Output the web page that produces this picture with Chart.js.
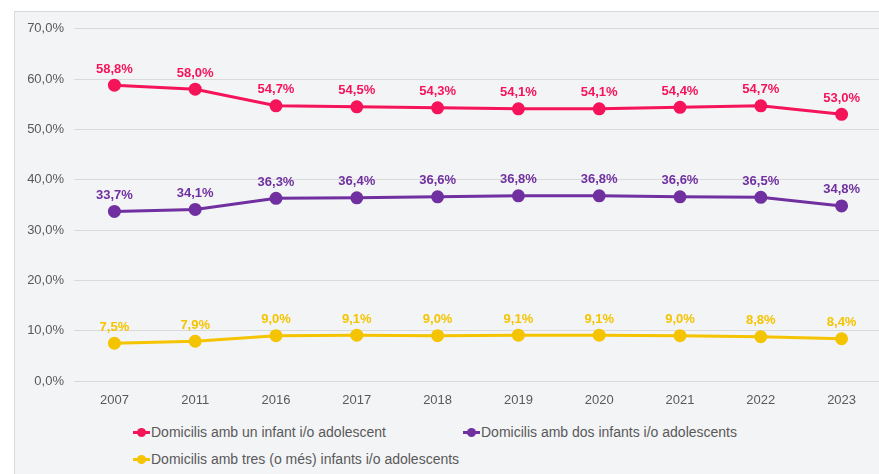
<!DOCTYPE html>
<html lang="ca">
<head>
<meta charset="UTF-8" />
<title>Domicilis amb infants</title>
<script src="https://cdn.jsdelivr.net/npm/chart.js"></script>
<style>
  html, body { margin: 0; padding: 0; background: #fff; overflow: hidden; width: 879px; height: 474px; }
  .panel {
    position: absolute; left: 14px; top: 11px; width: 900px; height: 500px;
    background: #f3f4f6; border: 1px solid #d9d9d9; box-sizing: border-box;
  }
  #lineChart { position: absolute; left: 14px; top: 11px; }
  .legend { position: absolute; font-family: "Liberation Sans", Arial, sans-serif; font-size: 14px; color: #595959; }
  .legend .item { position: absolute; white-space: nowrap; display: flex; align-items: center; }
  .legend .mark { position: relative; width: 17px; height: 3px; margin-right: 1px; }
  .legend .mark span { position: absolute; left: 4px; top: -3px; width: 9px; height: 9px; border-radius: 50%; }
</style>
</head>
<body>
<div class="panel"></div>
<canvas id="lineChart" width="876" height="397"></canvas>
<div class="legend" id="legend"></div>
<script>
const years = ['2007', '2011', '2016', '2017', '2018', '2019', '2020', '2021', '2022', '2023'];
const unInfant = [58.8, 58.0, 54.7, 54.5, 54.3, 54.1, 54.1, 54.4, 54.7, 53.0];
const dosInfants = [33.7, 34.1, 36.3, 36.4, 36.6, 36.8, 36.8, 36.6, 36.5, 34.8];
const tresInfants = [7.5, 7.9, 9.0, 9.1, 9.0, 9.1, 9.1, 9.0, 8.8, 8.4];
const seriesNames = [
  'Domicilis amb un infant i/o adolescent',
  'Domicilis amb dos infants i/o adolescents',
  'Domicilis amb tres (o més) infants i/o adolescents'
];
const colors = ['#f5145a', '#7030a0', '#f5c400'];

const fmt = v => v.toFixed(1).replace('.', ',') + '%';

// value labels above each point
const valueLabels = {
  id: 'valueLabels',
  afterDatasetsDraw(chart) {
    const ctx = chart.ctx;
    ctx.save();
    ctx.font = 'bold 13px "Liberation Sans", Arial, sans-serif';
    ctx.textAlign = 'center';
    ctx.textBaseline = 'middle';
    chart.data.datasets.forEach((ds, i) => {
      ctx.fillStyle = ds.borderColor;
      chart.getDatasetMeta(i).data.forEach((pt, j) => {
        ctx.fillText(fmt(ds.data[j]), pt.x, pt.y - 16);
      });
    });
    ctx.restore();
  }
};

new Chart(document.getElementById('lineChart'), {
  type: 'line',
  data: {
    labels: years,
    datasets: [unInfant, dosInfants, tresInfants].map((d, i) => ({
      label: seriesNames[i],
      data: d,
      borderColor: colors[i],
      backgroundColor: colors[i],
      borderWidth: 3,
      pointRadius: 5,
      pointHoverRadius: 5,
      fill: false,
      tension: 0
    }))
  },
  options: {
    responsive: false,
    animation: false,
    layout: { padding: { top: 17, right: 0, bottom: 0, left: 0 } },
    plugins: { legend: { display: false }, tooltip: { enabled: false } },
    scales: {
      x: {
        offset: true,
        grid: { display: false, drawTicks: false },
        border: { display: false },
        ticks: { color: '#595959', padding: 12, font: { family: '"Liberation Sans", Arial, sans-serif', size: 13 } },
        afterFit: s => { s.height = 27; }
      },
      y: {
        min: 0, max: 70,
        grid: { color: '#d9d9d9', drawTicks: false },
        border: { display: false },
        ticks: {
          stepSize: 10, color: '#595959', padding: 10,
          font: { family: '"Liberation Sans", Arial, sans-serif', size: 13 },
          callback: v => fmt(v)
        },
        afterFit: s => { s.width = 60; }
      }
    }
  },
  plugins: [valueLabels]
});

// legend laid out like the original: two entries on the first row, one below
const legendPos = [[133, 432], [463, 432], [133, 459]];
const legend = document.getElementById('legend');
seriesNames.forEach((name, i) => {
  const item = document.createElement('div');
  item.className = 'item';
  item.style.left = legendPos[i][0] + 'px';
  item.style.top = (legendPos[i][1] - 8) + 'px';
  item.innerHTML = '<div class="mark" style="background:' + colors[i] + '"><span style="background:' + colors[i] + '"></span></div>' + name;
  legend.appendChild(item);
});
</script>
</body>
</html>
